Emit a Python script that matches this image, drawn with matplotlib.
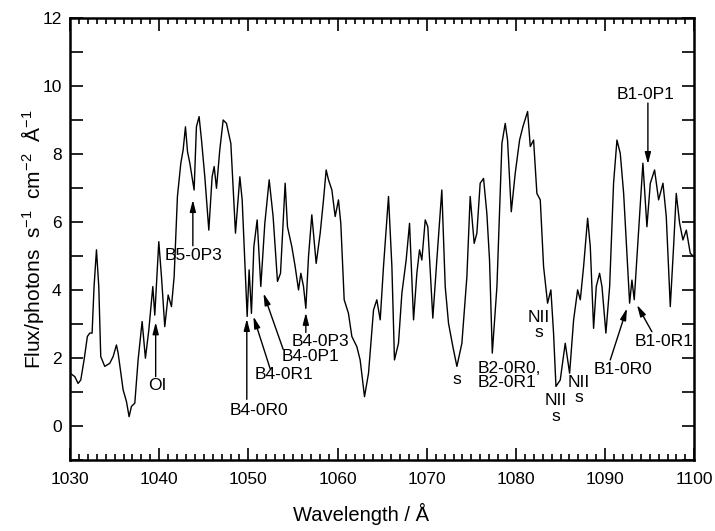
import matplotlib
matplotlib.use("Agg")
import matplotlib.pyplot as plt
from matplotlib.ticker import MultipleLocator

plt.rcParams['font.family'] = ['Liberation Sans', 'DejaVu Sans']
plt.rcParams['mathtext.fontset'] = 'custom'
plt.rcParams['mathtext.rm'] = 'Liberation Sans'
plt.rcParams['mathtext.default'] = 'regular'

# spectrum (wavelength in A, flux)
wavelength = [
    1030.00, 1030.53, 1030.90, 1031.20, 1031.57, 1031.94, 1032.21, 1032.47, 1032.69, 1032.96,
    1033.22, 1033.44, 1033.89, 1034.45, 1034.83, 1035.20, 1035.39, 1035.95, 1036.32, 1036.62,
    1036.88, 1037.26, 1037.63, 1038.08, 1038.45, 1038.83, 1039.28, 1039.50, 1039.95, 1040.25,
    1040.62, 1041.00, 1041.37, 1041.67, 1042.04, 1042.42, 1042.68, 1042.94, 1043.17, 1043.43,
    1043.91, 1044.17, 1044.47, 1044.74, 1045.11, 1045.56, 1045.93, 1046.16, 1046.42, 1046.79,
    1047.17, 1047.54, 1048.03, 1048.55, 1049.04, 1049.30, 1049.86, 1050.08, 1050.34, 1050.61,
    1050.98, 1051.39, 1051.84, 1052.33, 1052.77, 1053.26, 1053.60, 1054.12, 1054.38, 1054.87,
    1055.24, 1055.62, 1055.88, 1056.18, 1056.44, 1056.74, 1057.11, 1057.60, 1058.05, 1058.42,
    1058.72, 1058.98, 1059.36, 1059.73, 1060.10, 1060.36, 1060.74, 1061.22, 1061.60, 1062.16,
    1062.53, 1063.02, 1063.47, 1064.03, 1064.40, 1064.78, 1065.15, 1065.71, 1066.09, 1066.38,
    1066.83, 1067.21, 1067.69, 1068.07, 1068.52, 1068.89, 1069.19, 1069.45, 1069.83, 1070.12,
    1070.68, 1071.13, 1071.69, 1072.07, 1072.44, 1072.93, 1073.38, 1073.94, 1074.50, 1074.87,
    1075.32, 1075.62, 1075.99, 1076.37, 1076.74, 1077.04, 1077.35, 1077.87, 1078.43, 1078.80,
    1079.06, 1079.48, 1079.92, 1080.41, 1080.78, 1081.31, 1081.61, 1081.98, 1082.35, 1082.73,
    1083.10, 1083.55, 1083.92, 1084.22, 1084.49, 1084.97, 1085.53, 1086.02, 1086.47, 1086.92,
    1087.22, 1087.59, 1088.04, 1088.34, 1088.71, 1089.01, 1089.38, 1089.65, 1090.09, 1090.51,
    1090.95, 1091.33, 1091.70, 1092.08, 1092.45, 1092.75, 1093.01, 1093.27, 1093.76, 1094.24,
    1094.69, 1095.07, 1095.55, 1096.00, 1096.49, 1096.86, 1097.31, 1097.68, 1097.98, 1098.36,
    1098.73, 1099.11, 1099.55, 1099.93,
]
flux = [
    1.55, 1.45, 1.25, 1.35, 1.94, 2.63, 2.73, 2.73, 4.10, 5.18,
    4.10, 2.04, 1.75, 1.84, 2.04, 2.38, 2.14, 1.06, 0.72, 0.27,
    0.57, 0.67, 1.94, 3.07, 1.99, 2.82, 4.10, 3.26, 5.42, 4.39,
    2.92, 3.85, 3.51, 4.39, 6.75, 7.73, 8.12, 8.80, 8.07, 7.73,
    6.94, 8.80, 9.10, 8.41, 7.33, 5.76, 7.33, 7.63, 6.99, 8.12,
    9.00, 8.90, 8.31, 5.67, 7.33, 6.65, 3.22, 4.59, 3.31, 5.27,
    6.06, 4.10, 5.96, 7.24, 6.16, 4.25, 4.49, 7.14, 5.86, 5.27,
    4.69, 4.00, 4.49, 4.10, 3.46, 4.98, 6.21, 4.78, 5.67, 6.65,
    7.53, 7.24, 6.94, 6.16, 6.65, 5.96, 3.71, 3.31, 2.63, 2.33,
    1.94, 0.86, 1.55, 3.41, 3.71, 3.12, 4.69, 6.75, 4.69, 1.94,
    2.43, 3.90, 4.88, 5.96, 3.12, 4.49, 5.18, 4.88, 6.06, 5.86,
    3.17, 4.88, 6.94, 4.10, 3.02, 2.33, 1.75, 2.43, 4.39, 6.75,
    5.37, 5.67, 7.14, 7.28, 6.25, 4.88, 2.14, 4.10, 8.31, 8.90,
    8.41, 6.30, 7.43, 8.41, 8.80, 9.25, 8.22, 8.41, 6.84, 6.65,
    4.69, 3.61, 4.00, 2.73, 1.16, 1.35, 2.43, 1.55, 3.12, 4.00,
    3.71, 4.69, 6.11, 5.27, 2.87, 4.10, 4.49, 4.10, 2.73, 4.10,
    7.14, 8.41, 8.02, 6.84, 5.08, 3.61, 4.29, 3.71, 5.76, 7.73,
    5.86, 7.14, 7.53, 6.65, 7.14, 6.16, 3.51, 5.27, 6.84, 5.96,
    5.47, 5.76, 5.08, 4.98,
]

# labels with arrows: text, text position, arrow tail, arrow tip
arrow_labels = ['B5-0P3', 'OI', 'B4-0R0', 'B4-0R1', 'B4-0P1', 'B4-0P3',
                'B1-0R0', 'B1-0R1', 'B1-0P1']
arrow_text_pos = [(1043.8, 5.0), (1039.8, 1.2), (1051.2, 0.45), (1053.95, 1.5),
                  (1056.98, 2.04), (1058.05, 2.48), (1092.0, 1.67), (1096.6, 2.48),
                  (1094.5, 9.76)]
arrow_tail = [(1043.77, 5.3), (1039.6, 1.45), (1049.82, 0.78), (1052.44, 1.68),
              (1053.9, 2.25), (1056.44, 2.75), (1090.58, 1.94), (1095.25, 2.77),
              (1094.8, 9.5)]
arrow_tip = [(1043.77, 6.65), (1039.6, 3.05), (1049.82, 3.15), (1050.56, 3.22),
             (1051.69, 3.9), (1056.44, 3.33), (1092.45, 3.46), (1093.57, 3.56),
             (1094.8, 7.7)]

# N II labels with the small s below
nii_pos = [(1082.6, 3.2), (1084.5, 0.76), (1087.1, 1.27)]
s_pos = [(1082.6, 2.74), (1084.5, 0.29), (1087.1, 0.84), (1073.4, 1.35)]

fig = plt.figure(figsize=(7.15, 5.31), dpi=100)
ax = fig.add_axes([0.098, 0.134, 0.873, 0.832])

ax.plot(wavelength, flux, color='black', lw=1.0)

ax.set_xlim(1030, 1100)
ax.set_ylim(-1, 12)
ax.xaxis.set_major_locator(MultipleLocator(10))
ax.xaxis.set_minor_locator(MultipleLocator(1))
ax.yaxis.set_major_locator(MultipleLocator(2))
ax.yaxis.set_minor_locator(MultipleLocator(1))
ax.tick_params(which='both', direction='in', top=True, right=True, labelsize=12.5, width=1.2)
ax.tick_params(which='major', length=9)
ax.tick_params(which='minor', length=4.5)
ax.tick_params(axis='y', which='minor', length=9)
ax.tick_params(axis='x', pad=9)
ax.tick_params(axis='y', pad=6)
for sp in ax.spines.values():
    sp.set_linewidth(1.8)

ax.set_xlabel('Wavelength / Å', fontsize=14.5, va='center')
ax.xaxis.set_label_coords(0.466, -0.122)
ax.set_ylabel('Flux/photons  s$^{-1}$  cm$^{-2}$  Å$^{-1}$', fontsize=15, va='center')
ax.yaxis.set_label_coords(-0.06, 0.5)

for lab, tp, tail, tip in zip(arrow_labels, arrow_text_pos, arrow_tail, arrow_tip):
    ax.annotate('', xy=tip, xytext=tail,
                arrowprops=dict(arrowstyle='-|>,head_length=0.7,head_width=0.18',
                                color='black', lw=1.0, shrinkA=0, shrinkB=0))
    ax.text(tp[0], tp[1], lab, ha='center', va='center', fontsize=12.5)

for p in nii_pos:
    ax.text(p[0], p[1], 'NII', ha='center', va='center', fontsize=12.5)
for p in s_pos:
    ax.text(p[0], p[1], 's', ha='center', va='center', fontsize=12.5)

ax.text(1075.66, 1.7, 'B2-0R0,', ha='left', va='center', fontsize=12.5)
ax.text(1075.66, 1.27, 'B2-0R1', ha='left', va='center', fontsize=12.5)

fig.savefig('out.png', dpi=100)
